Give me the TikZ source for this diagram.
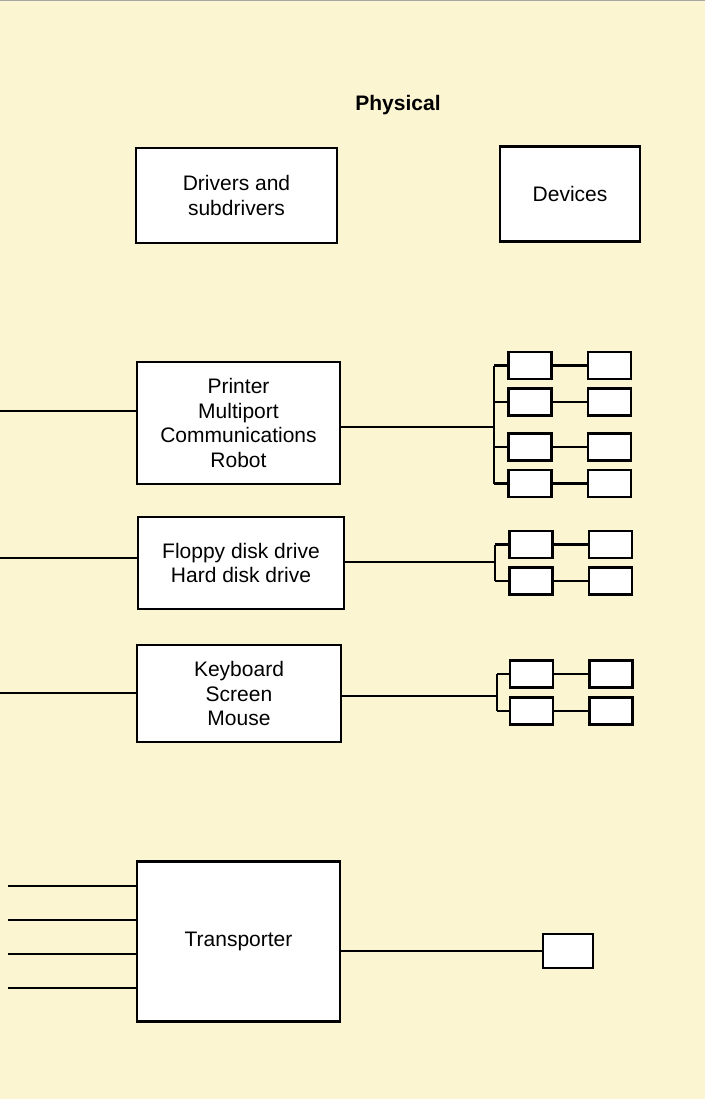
\documentclass[tikz,border=0pt]{standalone}
\usepackage{fontspec}
\setmainfont{Liberation Sans}
\definecolor{paper}{RGB}{252,245,210}
\tikzset{
  box/.style={draw,line width=2.6pt,fill=white,align=center,inner sep=0pt,
    font=\fontsize{21}{24.6}\selectfont},
  dev/.style={draw,line width=2.6pt,fill=white,inner sep=0pt,
    minimum width=43pt,minimum height=27pt},
  wire/.style={line width=2.2pt},
}
\begin{document}
\begin{tikzpicture}[x=1pt,y=-1pt]
  % paper
  \fill[paper] (0,0) rectangle (705,1099);
  \useasboundingbox (0,0) rectangle (705,1099);
  \draw[gray!70,line width=1pt] (0,1) -- (705,1);

  \node[font=\bfseries\fontsize{21}{24}\selectfont] (title) at (398,105) {Physical};

  % ---- headings ----
  \node[box,minimum width=201pt,minimum height=95pt] (drivers) at (236.5,195.5)
    {Drivers and\\subdrivers};
  \node[box,minimum width=140pt,minimum height=95pt] (devices) at (570,194)
    {Devices};

  % ---- printer group ----
  \node[box,minimum width=203pt,minimum height=122pt] (printer) at (238.5,423)
    {Printer\\Multiport\\Communications\\Robot};
  \coordinate (pin) at (0,411);
  \coordinate (pj) at (494,427);
  \draw[wire] (pin) -- (pin -| printer.west);
  \draw[wire] (pj -| printer.east) -- (pj);
  \foreach \n/\y in {1/365.5,2/402,3/447,4/483.5} {
    \node[dev] (pa\n) at (530,\y) {};
    \node[dev] (pb\n) at (609.5,\y) {};
    \draw[wire] (pa\n) -- (pb\n);
    \draw[wire] (pa\n.west) -- (pa\n.west -| pj);
  }
  \draw[wire] (pa1.west -| pj) -- (pa4.west -| pj);

  % ---- disk group ----
  \node[box,minimum width=206pt,minimum height=92pt] (disk) at (241,563)
    {Floppy disk drive\\Hard disk drive};
  \coordinate (din) at (0,558);
  \coordinate (dj) at (495,562);
  \draw[wire] (din) -- (din -| disk.west);
  \draw[wire] (dj -| disk.east) -- (dj);
  \foreach \n/\y in {1/544.5,2/581} {
    \node[dev] (da\n) at (531,\y) {};
    \node[dev] (db\n) at (610.5,\y) {};
    \draw[wire] (da\n) -- (db\n);
    \draw[wire] (da\n.west) -- (da\n.west -| dj);
  }
  \draw[wire] (da1.west -| dj) -- (da2.west -| dj);

  % ---- console group ----
  \node[box,minimum width=204pt,minimum height=97pt] (console) at (239,693.5)
    {Keyboard\\Screen\\Mouse};
  \coordinate (kin) at (0,693);
  \coordinate (kj) at (497,696);
  \draw[wire] (kin) -- (kin -| console.west);
  \draw[wire] (kj -| console.east) -- (kj);
  \foreach \n/\y in {1/674,2/711} {
    \node[dev] (ka\n) at (531.5,\y) {};
    \node[dev] (kb\n) at (611,\y) {};
    \draw[wire] (ka\n) -- (kb\n);
    \draw[wire] (ka\n.west) -- (ka\n.west -| kj);
  }
  \draw[wire] (ka1.west -| kj) -- (ka2.west -| kj);

  % ---- transporter ----
  \node[box,minimum width=203pt,minimum height=160pt] (transp) at (238.5,941.5)
    {Transporter};
  \foreach \n/\y in {1/886,2/920,3/954,4/988} {
    \coordinate (tin\n) at (8,\y);
    \draw[wire] (tin\n) -- (tin\n -| transp.west);
  }
  \node[dev,minimum width=50pt,minimum height=34pt] (port) at (568,951) {};
  \draw[wire] (port.west -| transp.east) -- (port.west);
\end{tikzpicture}
\end{document}
